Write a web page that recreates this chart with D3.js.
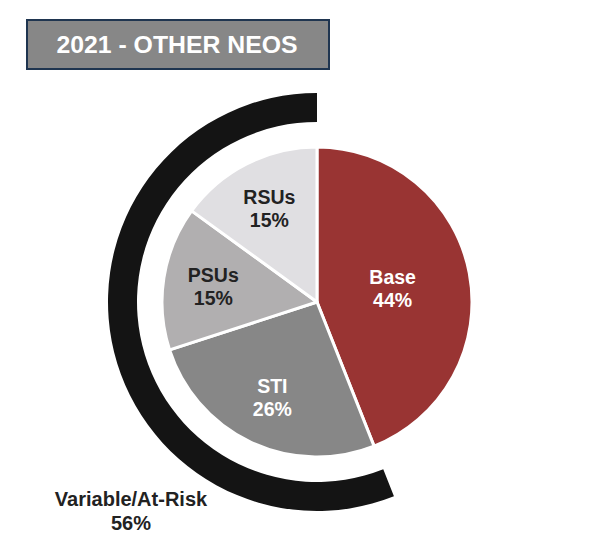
<!DOCTYPE html>
<html>
<head>
<meta charset="utf-8">
<script src="https://cdn.jsdelivr.net/npm/d3@7/dist/d3.min.js"></script>
<style>
  body { margin: 0; background: #fff; }
  svg { display: block; font-family: "Liberation Sans", Arial, sans-serif; }
</style>
</head>
<body>
<svg id="chart" width="612" height="556"></svg>
<script>
const title = "2021 - OTHER NEOS";
const categories = ["Base", "STI", "PSUs", "RSUs"];
const values = [44, 26, 15, 15];
const colors = ["#993433", "#878787", "#b1afb0", "#e0dfe2"];
const labelColors = ["#ffffff", "#ffffff", "#222222", "#222222"];
const atRiskLabel = "Variable/At-Risk";
const atRiskValue = 56;

const svg = d3.select("#chart");
const cx = 317, cy = 302, R = 155;

// Title box
svg.append("rect").attr("x", 27).attr("y", 20).attr("width", 302).attr("height", 49)
  .attr("fill", "#878787").attr("stroke", "#1f3550").attr("stroke-width", 2);
svg.append("text").attr("x", 177).attr("y", 53).attr("text-anchor", "middle")
  .attr("fill", "#fff").attr("font-weight", "bold").attr("font-size", 24.8).text(title);

const data = categories.map((c, i) => ({ name: c, value: values[i], color: colors[i], lc: labelColors[i] }));
const pie = d3.pie().sort(null).value(d => d.value);
const arcs = pie(data);
const arc = d3.arc().innerRadius(0).outerRadius(R);

const g = svg.append("g").attr("transform", `translate(${cx},${cy})`);
g.selectAll("path.slice").data(arcs).enter().append("path")
  .attr("class", "slice")
  .attr("d", arc)
  .attr("fill", d => d.data.color)
  .attr("stroke", "#fff").attr("stroke-width", 3).attr("stroke-linejoin", "round");

// labels
arcs.forEach(d => {
  const lr = d.data.name === "Base" ? 77 : 105;
  const [x, y] = d3.arc().innerRadius(lr).outerRadius(lr).centroid(d);
  const t = g.append("text").attr("text-anchor", "middle").attr("font-weight", "bold")
    .attr("font-size", 19.5).attr("fill", d.data.lc);
  t.append("tspan").attr("x", x).attr("y", y - 4).text(d.data.name);
  t.append("tspan").attr("x", x).attr("y", y + 19).text(d.data.value + "%");
});

// At-risk outer arc (spans the non-base slices, counter-clockwise from top)
const total = d3.sum(values);
const scaleA = d3.scaleLinear().domain([0, total]).range([0, 2 * Math.PI]);
const outerArc = d3.arc().innerRadius(180).outerRadius(209)
  .startAngle(scaleA(total - atRiskValue)).endAngle(scaleA(total));
g.append("path").attr("d", outerArc()).attr("fill", "#141414");

const lt = svg.append("text").attr("text-anchor", "middle").attr("font-weight", "bold")
  .attr("font-size", 20).attr("fill", "#222");
lt.append("tspan").attr("x", 131).attr("y", 506).text(atRiskLabel);
lt.append("tspan").attr("x", 131).attr("y", 530).text(atRiskValue + "%");
</script>
</body>
</html>
